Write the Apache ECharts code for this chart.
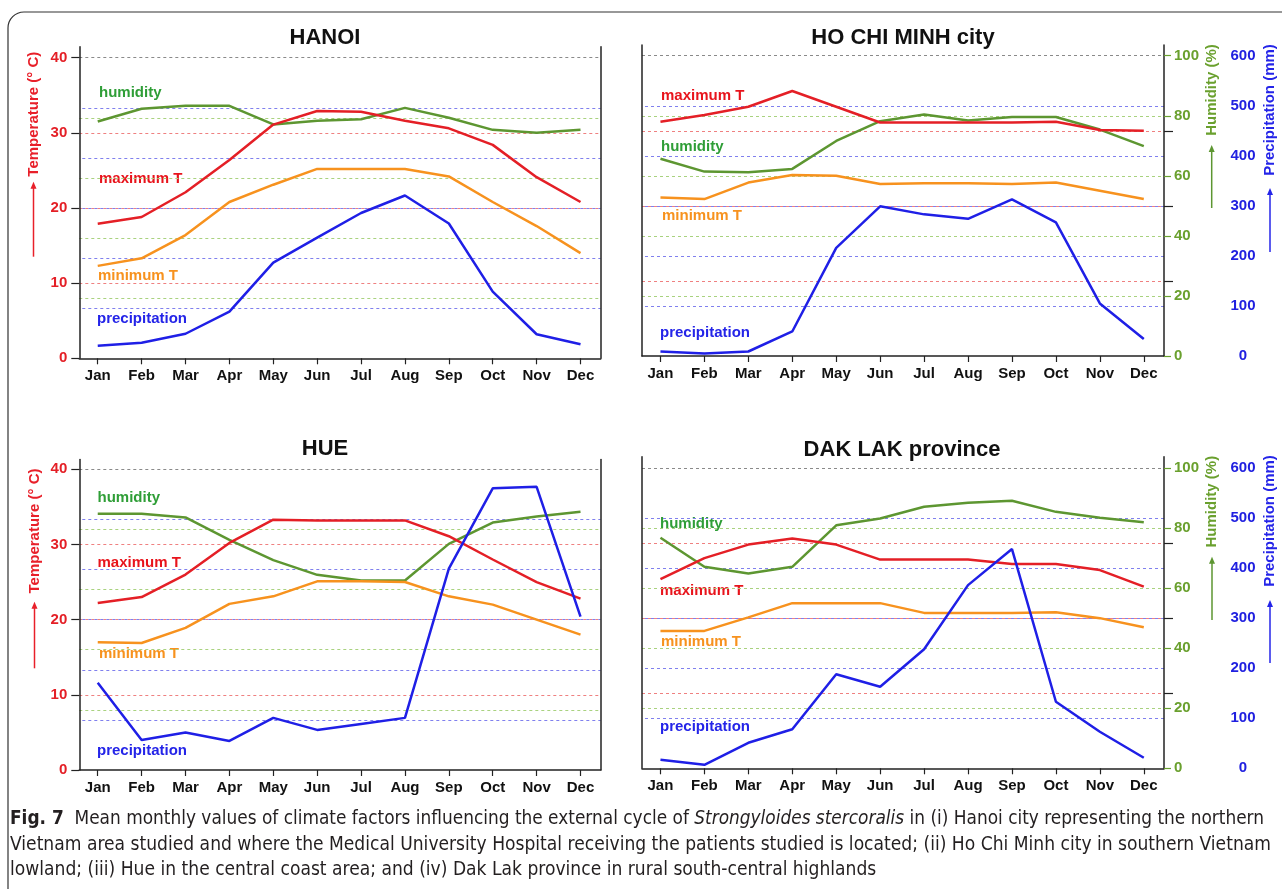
<!DOCTYPE html>
<html>
<head>
<meta charset="utf-8">
<script src="https://cdn.jsdelivr.net/npm/echarts@6/dist/echarts.min.js"></script>
<style>
  body { margin: 0; background: #fff; }
  #chart { position: absolute; left: 0; top: 0; width: 1282px; height: 889px; }
  .cap { position: absolute; left: 10px; white-space: nowrap; transform-origin: 0 50%;
         font-family: "Liberation Sans Narrow", "DejaVu Sans Condensed", "Liberation Sans", sans-serif;
         font-size: 19px; line-height: 24px; color: #231f20; }
</style>
</head>
<body>
<div id="chart"></div>
<div class="cap" id="cap1" style="top:805px"><b>Fig. 7</b>&nbsp; Mean monthly values of climate factors influencing the external cycle of <i>Strongyloides stercoralis</i> in (i) Hanoi city representing the northern</div>
<div class="cap" id="cap2" style="top:831px">Vietnam area studied and where the Medical University Hospital receiving the patients studied is located; (ii) Ho Chi Minh city in southern Vietnam</div>
<div class="cap" id="cap3" style="top:856px">lowland; (iii) Hue in the central coast area; and (iv) Dak Lak province in rural south-central highlands</div>
<script>
const months = ['Jan', 'Feb', 'Mar', 'Apr', 'May', 'Jun', 'Jul', 'Aug', 'Sep', 'Oct', 'Nov', 'Dec'];
const tempTicks = [0, 10, 20, 30, 40];
const humTicks = [0, 20, 40, 60, 80, 100];
const precTicks = [0, 100, 200, 300, 400, 500, 600];

// HANOI
const hanoiMaxT = [17.9, 18.8, 22.1, 26.4, 31.1, 32.9, 32.8, 31.6, 30.6, 28.4, 24.1, 20.8];
const hanoiMinT = [12.3, 13.3, 16.4, 20.8, 23.1, 25.2, 25.2, 25.2, 24.2, 20.8, 17.6, 14.0];
const hanoiHum = [78.8, 83.0, 84.0, 84.0, 77.8, 79.0, 79.5, 83.3, 80.0, 76.0, 75.0, 76.0];
const hanoiPrec = [25, 31, 49, 93, 191, 241, 290, 325, 269, 133, 48, 28];
// HO CHI MINH city
const hcmMaxT = [31.2, 32.1, 33.2, 35.3, 33.2, 31.1, 31.1, 31.1, 31.1, 31.2, 30.1, 30.0];
const hcmMinT = [21.1, 20.9, 23.1, 24.1, 24.0, 22.9, 23.0, 23.0, 22.9, 23.1, 22.0, 20.9];
const hcmHum = [65.7, 61.4, 61.2, 62.3, 71.6, 78.2, 80.4, 78.4, 79.6, 79.6, 75.4, 69.9];
const hcmPrec = [9, 5, 9, 49, 216, 299, 283, 274, 313, 267, 105, 34];
// HUE
const hueMaxT = [22.2, 23.0, 26.0, 30.2, 33.3, 33.2, 33.2, 33.2, 31.1, 28.0, 25.0, 22.8];
const hueMinT = [17.0, 16.9, 18.9, 22.1, 23.1, 25.1, 25.1, 25.0, 23.1, 22.0, 20.0, 18.0];
const hueHum = [85.2, 85.2, 84.0, 76.5, 69.8, 64.9, 63.0, 63.0, 75.2, 82.3, 84.3, 85.9];
const huePrec = [174, 60, 75, 58, 104, 80, 92, 104, 402, 562, 565, 306];
// DAK LAK province
const dakMaxT = [25.2, 28.0, 29.8, 30.6, 29.8, 27.8, 27.8, 27.8, 27.2, 27.2, 26.4, 24.2];
const dakMinT = [18.3, 18.3, 20.1, 22.0, 22.0, 22.0, 20.7, 20.7, 20.7, 20.8, 20.0, 18.8];
const dakHum = [76.8, 67.1, 64.9, 67.1, 80.9, 83.2, 87.1, 88.4, 89.1, 85.4, 83.4, 81.9];
const dakPrec = [17, 7, 51, 78, 188, 163, 238, 366, 438, 133, 73, 21];

const RED = '#e41f26', ORANGE = '#f7921e', OLIVE = '#5d9631', BLUE = '#1f1fe6';
const FONT = '"Liberation Sans", Arial, sans-serif';

// layout of the four panels (pixels)
const panels = [
  { title: 'HANOI', side: 'left', x0: 79.3, x1: 600.7, yTop: 46.7, y40: 57.7, y0: 358.3, tx: 325, ty: 37.5,
    maxT: hanoiMaxT, minT: hanoiMinT, hum: hanoiHum, prec: hanoiPrec,
    lab: { hum: [99, 93.3], maxT: [99, 179], minT: [98, 275.7], prec: [97, 319.3] },
    axisTitle: { x: 33.5, ty: 114.2, a0: 256.7, a1: 181.7 } },
  { title: 'HO CHI MINH city', side: 'right', x0: 642, x1: 1164, yTop: 45, y40: 55.7, y0: 356, tx: 903, ty: 38.3,
    maxT: hcmMaxT, minT: hcmMinT, hum: hcmHum, prec: hcmPrec,
    lab: { maxT: [661, 95.7], hum: [661, 146.7], minT: [662, 216], prec: [660, 333.3] },
    humTitle: { x: 1211.7, ty: 90, a0: 208, a1: 145 }, precTitle: { x: 1270, ty: 110, a0: 252, a1: 188 } },
  { title: 'HUE', side: 'left', x0: 79.3, x1: 600.7, yTop: 459.5, y40: 469.3, y0: 770, tx: 325, ty: 449.3,
    maxT: hueMaxT, minT: hueMinT, hum: hueHum, prec: huePrec,
    lab: { hum: [97.5, 498.3], maxT: [97.5, 562.7], minT: [99, 654.3], prec: [97, 750.7] },
    axisTitle: { x: 34.5, ty: 531, a0: 668.3, a1: 601.7 } },
  { title: 'DAK LAK province', side: 'right', x0: 642, x1: 1164, yTop: 456.7, y40: 468, y0: 768.3, tx: 902, ty: 450,
    maxT: dakMaxT, minT: dakMinT, hum: dakHum, prec: dakPrec,
    lab: { hum: [660, 524.3], maxT: [660, 591], minT: [661, 641.7], prec: [660, 727.3] },
    humTitle: { x: 1212, ty: 501.7, a0: 620, a1: 556.7 }, precTitle: { x: 1270, ty: 521, a0: 663, a1: 600 } }
];

const grids = [], xAxes = [], yAxes = [], series = [], graphics = [];

graphics.push({ type: 'rect', shape: { x: 8, y: 12, width: 1300, height: 900, r: 16 },
  style: { fill: 'none', stroke: '#333', lineWidth: 1.2 }, silent: true });

function arrow(x, yb, yt, color) {
  return { type: 'group', silent: true, children: [
    { type: 'line', shape: { x1: x, y1: yb, x2: x, y2: yt + 4 }, style: { stroke: color, lineWidth: 1.5 } },
    { type: 'polygon', shape: { points: [[x - 3, yt + 7], [x + 3, yt + 7], [x, yt]] }, style: { fill: color } }
  ] };
}
function vText(x, y, text, color) {
  return { type: 'text', x: x, y: y, rotation: Math.PI / 2, silent: true,
    style: { text: text, fill: color, font: 'bold 15px ' + FONT, textAlign: 'center', textVerticalAlign: 'middle' } };
}
function label(pos, text, color) {
  return { type: 'text', x: pos[0], y: pos[1], silent: true,
    style: { text: text, fill: color, font: 'bold 15px ' + FONT, textAlign: 'left', textVerticalAlign: 'middle' } };
}
const dash = [3, 3];
const clear = 'rgba(0,0,0,0)';

panels.forEach((p, i) => {
  const left = p.side === 'left';
  const r = (p.y0 - p.yTop) / (p.y0 - p.y40);
  grids.push({ left: p.x0, top: p.yTop, width: p.x1 - p.x0, height: p.y0 - p.yTop, outerBoundsMode: 'none' });
  xAxes.push({
    type: 'value', gridIndex: i, min: -0.42, max: 11.46,
    axisLine: { show: true, onZero: false, lineStyle: { color: '#222', width: 1.5 } },
    axisTick: { show: true, length: 6, customValues: months.map((m, k) => k), lineStyle: { color: '#222', width: 1.2 } },
    axisLabel: { customValues: months.map((m, k) => k), formatter: v => months[Math.round(v)] || '',
      color: '#111', fontWeight: 'bold', fontSize: 15, fontFamily: FONT, margin: 10 },
    splitLine: { show: false }
  });
  // temperature (left)
  yAxes.push({
    type: 'value', gridIndex: i, position: 'left', min: 0, max: 40 * r, interval: 10,
    axisLine: { show: true, onZero: false, lineStyle: { color: '#222', width: 1.5 } },
    axisTick: { show: left, length: 8, customValues: tempTicks, lineStyle: { color: '#222', width: 1.2 } },
    axisLabel: { show: left, customValues: tempTicks, color: RED, fontWeight: 'bold', fontSize: 15, fontFamily: FONT, margin: 12 },
    splitLine: { show: true, lineStyle: { type: dash, width: 1, color: [clear, '#ef8080', '#ef8080', '#ef8080', '#8a8a8a', clear] } }
  });
  // humidity (right)
  yAxes.push({
    type: 'value', gridIndex: i, position: 'right', min: 0, max: 100 * r, interval: 20,
    axisLine: { show: true, onZero: false, lineStyle: { color: '#222', width: 1.5 } },
    axisTick: { show: !left, length: 7, customValues: humTicks, lineStyle: { color: '#6aa02e', width: 1.2 } },
    axisLabel: { show: !left, customValues: humTicks, color: '#6aa02e', fontWeight: 'bold', fontSize: 15, fontFamily: FONT, margin: 10 },
    splitLine: { show: true, lineStyle: { type: dash, width: 1, color: [clear, '#a9d27f', '#a9d27f', '#a9d27f', '#a9d27f', clear, clear] } }
  });
  // precipitation (right, outer)
  yAxes.push({
    type: 'value', gridIndex: i, position: 'right', offset: 79, min: 0, max: 600 * r, interval: 100,
    axisLine: { show: false, onZero: false }, axisTick: { show: false },
    axisLabel: { show: !left, customValues: precTicks, color: '#2020e0', fontWeight: 'bold', fontSize: 15, fontFamily: FONT, margin: 0, align: 'center' },
    splitLine: { show: true, lineStyle: { type: dash, dashOffset: 3, width: 1, color: [clear, '#8080ee', '#8080ee', '#8080ee', '#8080ee', '#8080ee', clear, clear] } }
  });
  // temperature ticks on the right axis line
  yAxes.push({
    type: 'value', gridIndex: i, position: 'right', min: 0, max: 40 * r, interval: 10,
    axisLine: { show: false, onZero: false },
    axisTick: { show: !left, length: 9, customValues: [10, 20, 30], lineStyle: { color: '#222', width: 1.2 } },
    axisLabel: { show: false }, splitLine: { show: false }
  });

  const base = i * 4;
  const mk = (arr, yi, color, z) => ({
    type: 'line', xAxisIndex: i, yAxisIndex: base + yi, symbol: 'none', silent: true, z: z,
    lineStyle: { color: color, width: 2.5 }, data: arr.map((v, k) => [k, v])
  });
  series.push(mk(p.hum, 1, OLIVE, 3), mk(p.minT, 0, ORANGE, 4), mk(p.maxT, 0, RED, 5), mk(p.prec, 2, BLUE, 6));

  graphics.push({ type: 'text', x: p.tx, y: p.ty, silent: true,
    style: { text: p.title, fill: '#111', font: 'bold 22px ' + FONT, textAlign: 'center', textVerticalAlign: 'middle' } });
  graphics.push(label(p.lab.hum, 'humidity', '#2f9e37'));
  graphics.push(label(p.lab.maxT, 'maximum T', '#e8141c'));
  graphics.push(label(p.lab.minT, 'minimum T', '#f7921e'));
  graphics.push(label(p.lab.prec, 'precipitation', '#2424e8'));
  if (left) {
    graphics.push(vText(p.axisTitle.x, p.axisTitle.ty, 'Temperature (° C)', '#e8202a'));
    graphics.push(arrow(p.axisTitle.x, p.axisTitle.a0, p.axisTitle.a1, '#e8202a'));
  } else {
    graphics.push(vText(p.humTitle.x, p.humTitle.ty, 'Humidity (%)', '#6aa02e'));
    graphics.push(arrow(p.humTitle.x, p.humTitle.a0, p.humTitle.a1, '#5d9631'));
    graphics.push(vText(p.precTitle.x, p.precTitle.ty, 'Precipitation (mm)', '#2424e8'));
    graphics.push(arrow(p.precTitle.x, p.precTitle.a0, p.precTitle.a1, '#2424e8'));
  }
});

const chart = echarts.init(document.getElementById('chart'), null, { renderer: 'canvas' });
chart.setOption({
  animation: false,
  backgroundColor: '#fff',
  grid: grids, xAxis: xAxes, yAxis: yAxes, series: series, graphic: graphics
});

// fit caption lines to the widths of the original
function fit(id, w) {
  const el = document.getElementById(id);
  const s = w / el.getBoundingClientRect().width;
  el.style.transform = 'scaleX(' + s + ')';
  return s;
}
fit('cap1', 1254);
const s2 = fit('cap2', 1261);
document.getElementById('cap3').style.transform = 'scaleX(' + s2 + ')';
</script>
</body>
</html>
